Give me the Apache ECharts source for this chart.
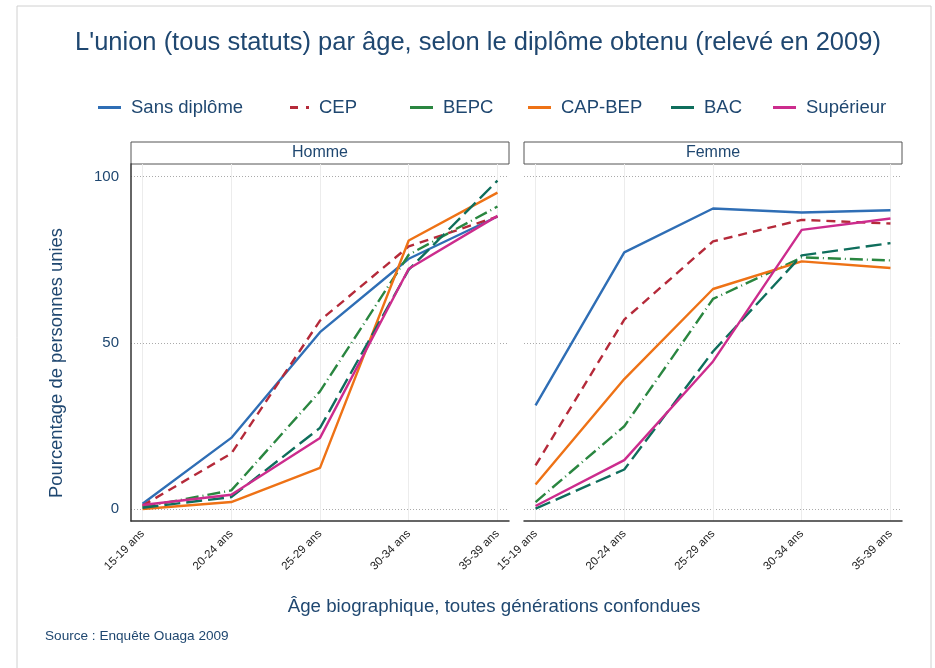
<!DOCTYPE html>
<html>
<head>
<meta charset="utf-8">
<script src="https://cdn.jsdelivr.net/npm/echarts@6/dist/echarts.min.js"></script>
<style>
  html, body { margin: 0; padding: 0; background: #fff; }
  #chart { width: 935px; height: 668px; }
</style>
</head>
<body>
<div id="chart"></div>
<script>
// age groups (x categories)
var ages = ['15-19 ans', '20-24 ans', '25-29 ans', '30-34 ans', '35-39 ans'];
var diplomes = ['Sans diplôme', 'CEP', 'BEPC', 'CAP-BEP', 'BAC', 'Supérieur'];
var yTicks = [0, 50, 100];

// Homme, % in union by age group
var hSansDiplome = [1.6, 21.4, 53.2, 75.3, 88.0];
var hCEP         = [1.0, 16.7, 56.7, 79.0, 88.0];
var hBEPC        = [0.6, 5.6, 35.4, 76.5, 91.0];
var hCAPBEP      = [0.0, 2.1, 12.4, 80.8, 95.2];
var hBAC         = [0.4, 3.6, 24.4, 72.0, 98.8];
var hSuperieur   = [1.2, 4.3, 21.4, 72.3, 88.2];

// Femme
var fSansDiplome = [31.2, 77.2, 90.4, 89.2, 89.9];
var fCEP         = [13.1, 57.0, 80.5, 87.0, 85.9];
var fBEPC        = [2.1, 24.9, 63.2, 75.7, 74.8];
var fCAPBEP      = [7.4, 39.1, 66.2, 74.5, 72.5];
var fBAC         = [0.1, 11.9, 47.4, 76.3, 80.0];
var fSuperieur   = [0.9, 14.7, 44.4, 84.0, 87.4];

var homme = [hSansDiplome, hCEP, hBEPC, hCAPBEP, hBAC, hSuperieur];
var femme = [fSansDiplome, fCEP, fBEPC, fCAPBEP, fBAC, fSuperieur];

var colors = ['#2f6eb5', '#b52a3a', '#2a8640', '#ee7216', '#0f6e5c', '#cc2c8d'];
var dashes = ['solid', [9, 6], [13, 4, 1, 4], 'solid', [16, 6], 'solid'];

var txt = '#1f4770';
var font = "'Liberation Sans', Arial, sans-serif";

function toPts(arr) {
    return arr.map(function (v, i) { return [i, v]; });
}

var series = [];
[homme, femme].forEach(function (panel, p) {
    panel.forEach(function (vals, k) {
        series.push({
            name: diplomes[k],
            type: 'line',
            xAxisIndex: p,
            yAxisIndex: p,
            data: toPts(vals),
            symbol: 'none',
            lineStyle: { color: colors[k], width: 2.4, type: dashes[k] },
            itemStyle: { color: colors[k] }
        });
    });
});

// legend keys drawn as short bars (CEP one is broken like its dash)
var barIcon = 'path://M0,0H23V3H0Z';
var dashIcon = 'path://M0,0H8V3H0Z M16,0H19V3H16Z';
var legendLeft = [93, 285, 405, 523, 666, 768];
var legends = diplomes.map(function (d, k) {
    return {
        data: [d],
        left: legendLeft[k],
        top: 93,
        icon: k === 1 ? dashIcon : barIcon,
        itemWidth: k === 1 ? 19 : 23,
        itemHeight: 3,
        textStyle: { fontSize: 18.5, color: txt, fontFamily: font, padding: [0, 0, 0, 5] }
    };
});

function xAxis(idx) {
    return {
        type: 'value',
        gridIndex: idx,
        min: -0.13,
        max: 4.13,
        axisLine: { show: true, onZero: false, lineStyle: { color: '#333', width: 1.5 } },
        axisTick: { show: false, customValues: [0, 1, 2, 3, 4] },
        axisLabel: {
            customValues: [0, 1, 2, 3, 4],
            formatter: function (v) { return ages[v]; },
            rotate: 45,
            margin: 11,
            fontSize: 11.5,
            color: '#222',
            fontFamily: font
        },
        splitLine: { show: true, lineStyle: { color: '#ececec', width: 1 } }
    };
}

function yAxis(idx) {
    return {
        type: 'value',
        gridIndex: idx,
        min: -3.6,
        max: 103.8,
        axisLine: { show: idx === 0, onZero: false, lineStyle: { color: '#333', width: 1.5 } },
        axisTick: { show: false, customValues: yTicks },
        axisLabel: {
            show: idx === 0,
            customValues: yTicks,
            margin: 12,
            fontSize: 15,
            color: txt,
            fontFamily: font
        },
        splitLine: { show: true, lineStyle: { color: '#aaa', width: 1, type: [1, 2] } }
    };
}

function strip(x, label) {
    return [
        {
            type: 'rect',
            shape: { x: x, y: 142, width: 378, height: 22 },
            style: { fill: '#fff', stroke: '#555', lineWidth: 1 }
        },
        {
            type: 'text',
            x: x + 189,
            y: 153,
            style: { text: label, fontSize: 16, fill: txt, fontFamily: font, align: 'center', verticalAlign: 'middle' }
        }
    ];
}

var chart = echarts.init(document.getElementById('chart'));
chart.setOption({
    animation: false,
    backgroundColor: '#fff',
    legend: legends,
    grid: [
        { left: 131, top: 164, width: 378, height: 357 },
        { left: 524, top: 164, width: 378, height: 357 }
    ],
    xAxis: [xAxis(0), xAxis(1)],
    yAxis: [yAxis(0), yAxis(1)],
    series: series,
    graphic: [
        {
            type: 'rect',
            shape: { x: 17, y: 6, width: 914, height: 700 },
            style: { fill: 'none', stroke: '#d0d0d0', lineWidth: 1 },
            silent: true
        },
        {
            type: 'text',
            x: 478,
            y: 43,
            style: { text: "L'union (tous statuts) par âge, selon le diplôme obtenu (relevé en 2009)", fontSize: 25.5, fill: txt, fontFamily: font, align: 'center', verticalAlign: 'middle' }
        }
    ].concat(strip(131, 'Homme'), strip(524, 'Femme'), [
        {
            type: 'text',
            x: 57,
            y: 363,
            rotation: Math.PI / 2,
            style: { text: 'Pourcentage de personnes unies', fontSize: 18.4, fill: txt, fontFamily: font, align: 'center', verticalAlign: 'middle' }
        },
        {
            type: 'text',
            x: 494,
            y: 607,
            style: { text: 'Âge biographique, toutes générations confondues', fontSize: 18.7, fill: txt, fontFamily: font, align: 'center', verticalAlign: 'middle' }
        },
        {
            type: 'text',
            x: 45,
            y: 636,
            style: { text: 'Source : Enquête Ouaga 2009', fontSize: 13.6, fill: txt, fontFamily: font, align: 'left', verticalAlign: 'middle' }
        }
    ])
});
</script>
</body>
</html>
